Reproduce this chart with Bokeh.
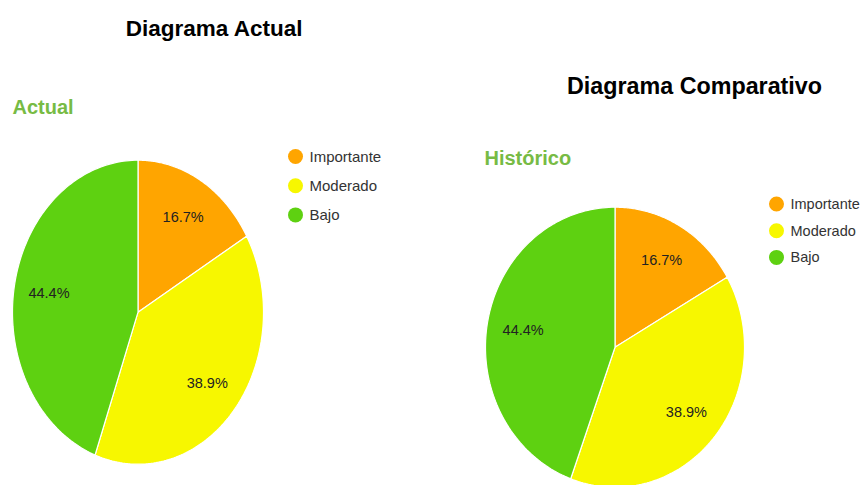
import numpy as np
from bokeh.plotting import figure
from bokeh.models import Range1d, ColumnDataSource
from bokeh.core.properties import value
from bokeh.embed import file_html
from bokeh.resources import INLINE

# ---- data ----
categories = ["Importante", "Moderado", "Bajo"]
actual_counts = [3, 7, 8]
historico_counts = [3, 7, 8]
colors = ["#FFA500", "#F7F700", "#5ED111"]
chart_titles = ["Diagrama Actual", "Diagrama Comparativo"]
series_names = ["Actual", "Histórico"]

FONT = value("Liberation Sans")

W, H = 866, 485
# page-pixel coordinates (x right, y down) via flipped y range
p = figure(width=W, height=H, x_range=Range1d(0, W), y_range=Range1d(H, 0),
           output_backend="svg", toolbar_location=None, min_border=0)
p.axis.visible = False
p.grid.visible = False
p.outline_line_color = None
p.background_fill_color = "white"


def draw_pie(counts, cx, cy, rx, ry):
    vals = np.array(counts, dtype=float)
    frac = vals / vals.sum()
    ends = np.cumsum(frac) * 2 * np.pi
    starts = ends - frac * 2 * np.pi
    xs, ys, lx, ly, labels = [], [], [], [], []
    for s, e, f in zip(starts, ends, frac):
        t = np.linspace(s, e, 120)
        xs.append(list(np.concatenate([[cx], cx + rx * np.sin(t), [cx]])))
        ys.append(list(np.concatenate([[cy], cy - ry * np.cos(t), [cy]])))
        m = (s + e) / 2
        lx.append(cx + 0.72 * rx * np.sin(m))
        ly.append(cy - 0.72 * ry * np.cos(m))
        labels.append(f"{f * 100:.1f}%")
    src = ColumnDataSource(dict(xs=xs, ys=ys, color=colors))
    p.patches("xs", "ys", source=src, fill_color="color", line_color="white", line_width=1.2)
    p.text(x=lx, y=ly, text=labels, text_align="center", text_baseline="middle",
           text_font=FONT, text_font_size="14.5px", text_color="#222222")


def draw_legend(x0, y0, dy, fs):
    n = len(categories)
    ys = [y0 + i * dy for i in range(n)]
    p.scatter(x=[x0] * n, y=ys, size=15, marker="circle", fill_color=colors, line_color=None)
    p.text(x=[x0 + 14] * n, y=ys, text=categories, text_align="left", text_baseline="middle",
           text_font=FONT, text_font_size=fs, text_color="#333333")


# Left chart
p.text(x=[214], y=[28], text=[chart_titles[0]], text_align="center", text_baseline="middle",
       text_font=FONT, text_font_style="bold", text_font_size="22.5px", text_color="black")
p.text(x=[12], y=[106], text=[series_names[0]], text_align="left", text_baseline="middle",
       text_font=FONT, text_font_style="bold", text_font_size="20px", text_color="#77BB44")
draw_pie(actual_counts, 137.5, 311.7, 125.5, 152)
draw_legend(295, 156, 29.2, "15px")

# Right chart
p.text(x=[694], y=[85], text=[chart_titles[1]], text_align="center", text_baseline="middle",
       text_font=FONT, text_font_style="bold", text_font_size="23.3px", text_color="black")
p.text(x=[484], y=[157], text=[series_names[1]], text_align="left", text_baseline="middle",
       text_font=FONT, text_font_style="bold", text_font_size="20px", text_color="#77BB44")
draw_pie(historico_counts, 614.5, 346.7, 129.5, 140)
draw_legend(776, 203.5, 26.7, "14.5px")

open("out.html", "w").write(file_html(p, INLINE))
